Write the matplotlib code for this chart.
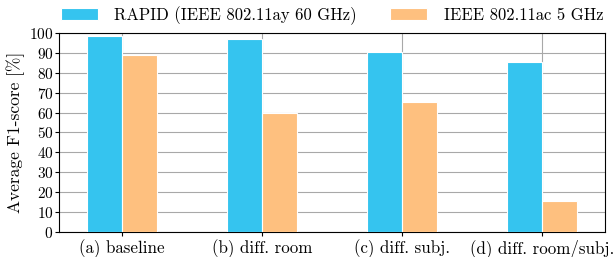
import matplotlib
matplotlib.use('Agg')
import matplotlib.pyplot as plt
import numpy as np

plt.rcParams['font.family'] = 'cmr10'
plt.rcParams['mathtext.fontset'] = 'cm'
plt.rcParams['axes.formatter.use_mathtext'] = True

scenarios = ['(a) baseline', '(b) diff. room', '(c) diff. subj.', '(d) diff. room/subj.']
rapid = [98.5, 96.8, 90.4, 85.3]
wifi = [88.9, 59.7, 65.4, 15.7]
labels = ['RAPID (IEEE 802.11ay 60 GHz)', 'IEEE 802.11ac 5 GHz']

fig = plt.figure(figsize=(6.15, 2.57), dpi=100)
ax = fig.add_axes([0.096, 0.097, 0.888, 0.775])

x = np.arange(len(scenarios))
w = 0.25
ax.bar(x - w, rapid, w, align='edge', color='#35c4ef', edgecolor='white', linewidth=0.8,
       label=labels[0], zorder=3)
ax.bar(x, wifi, w, align='edge', color='#fec07f', edgecolor='white', linewidth=0.8,
       label=labels[1], zorder=3)

ax.set_xlim(-0.45, 3.45)
ax.set_ylim(0, 100)
ax.set_yticks(range(0, 101, 10))
ax.set_xticks(x)
ax.set_xticklabels(scenarios, fontsize=12.2)
ax.tick_params(axis='y', labelsize=11, length=3, pad=1)
ax.tick_params(axis='x', length=3, pad=2)
ax.set_ylabel('Average F1-score [%]', fontsize=12.5, labelpad=3)
ax.grid(True, color='#a8a8a8', linewidth=0.8, zorder=0)
ax.set_axisbelow(True)

ax.legend(loc='center', bbox_to_anchor=(0.5, 1.088), ncol=2, frameon=False,
          fontsize=12, handlelength=2.2, handleheight=0.78, columnspacing=2.0,
          borderaxespad=0, handletextpad=1.0)

fig.savefig('out.png', dpi=100)
